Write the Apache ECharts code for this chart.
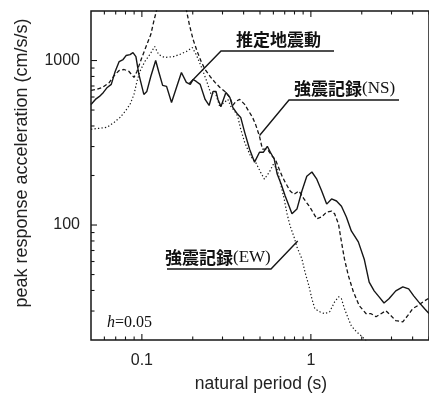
<!DOCTYPE html>
<html>
<head>
<meta charset="utf-8">
<script src="https://cdn.jsdelivr.net/npm/echarts@6/dist/echarts.min.js"></script>
<style>
  html, body { margin: 0; padding: 0; background: #fff; }
  #chart { width: 429px; height: 401px; }
</style>
</head>
<body>
<div id="chart"></div>
<script>
// Peak response acceleration spectra (h = 0.05): period (s) vs acceleration (cm/s/s)

// 推定地震動 (estimated ground motion)
const estT = [0.050, 0.0531, 0.0561, 0.0592, 0.0624, 0.0659, 0.0695, 0.0734, 0.0774, 0.0806, 0.0851, 0.0886, 0.0922, 0.096, 0.1027, 0.107, 0.1129, 0.1207, 0.1257, 0.1327, 0.140, 0.1498, 0.1602, 0.1714, 0.1833, 0.1934, 0.201, 0.2097, 0.2213, 0.2367, 0.2499, 0.2637, 0.2746, 0.282, 0.2937, 0.3142, 0.3316, 0.345, 0.369, 0.3845, 0.4058, 0.434, 0.4642, 0.4966, 0.524, 0.5525, 0.5757, 0.6075, 0.632, 0.6676, 0.7047, 0.7436, 0.773, 0.827, 0.885, 0.946, 1.014, 1.084, 1.159, 1.24, 1.326, 1.418, 1.517, 1.622, 1.735, 1.909, 2.069, 2.213, 2.368, 2.533, 2.709, 2.897, 3.18, 3.499, 3.79, 4.06, 4.34, 4.71, 5.0];
const estA = [540, 580, 605, 640, 686, 716, 858, 986, 1014, 1072, 1087, 1118, 1057, 823, 622, 649, 800, 1000, 858, 706, 696, 556, 686, 846, 736, 716, 767, 746, 716, 580, 533, 649, 649, 580, 526, 640, 597, 519, 471, 451, 366, 289, 241, 277, 277, 301, 277, 251, 204, 177, 150, 130, 117, 125, 161, 198, 210, 190, 161, 134, 144, 140, 130, 112, 92, 79, 62, 45, 39.8, 36.6, 33.6, 35.6, 39.8, 42.1, 40.9, 37.1, 34.1, 31.0, 29];

// 強震記録(NS)
const nsT = [0.050, 0.0538, 0.0584, 0.0642, 0.0686, 0.0734, 0.0785, 0.0839, 0.0898, 0.0935, 0.100, 0.107, 0.1129, 0.1175, 0.1224, 0.1344, 0.1498, 0.169, 0.1833, 0.191, 0.201, 0.2126, 0.2243, 0.2367, 0.2533, 0.2709, 0.2897, 0.3099, 0.3316, 0.345, 0.3594, 0.3793, 0.4058, 0.4224, 0.4517, 0.4707, 0.4966, 0.5166, 0.5525, 0.591, 0.6158, 0.6498, 0.676, 0.7047, 0.7538, 0.7953, 0.8509, 0.9101, 0.9867, 1.084, 1.159, 1.24, 1.326, 1.382, 1.458, 1.517, 1.58, 1.668, 1.784, 1.934, 2.124, 2.27, 2.43, 2.60, 2.78, 2.98, 3.18, 3.499, 3.74, 4.0, 4.28, 4.71, 5.0];
const nsA = [658, 667, 686, 736, 811, 870, 882, 858, 789, 858, 1043, 1250, 1438, 1722, 2036, 2620, 3016, 2620, 2036, 1652, 1340, 1134, 986, 882, 800, 736, 686, 649, 597, 533, 564, 580, 541, 505, 451, 409, 346, 289, 289, 262, 251, 218, 198, 182, 161, 154, 161, 144, 128.5, 109, 112, 120, 121.6, 117, 101, 79, 62.2, 49.1, 39.3, 32.3, 28.9, 28.9, 27.7, 28.9, 30.1, 28.1, 26.2, 25.8, 28.1, 31.0, 32.3, 34.6, 36];

// 強震記録(EW)
const ewT = [0.050, 0.0568, 0.0624, 0.0686, 0.0743, 0.0796, 0.0851, 0.0898, 0.0935, 0.0973, 0.1041, 0.1114, 0.1191, 0.1257, 0.1363, 0.1538, 0.1668, 0.1833, 0.1987, 0.2097, 0.2243, 0.2399, 0.2567, 0.2709, 0.2897, 0.3017, 0.3227, 0.336, 0.3546, 0.369, 0.3845, 0.4058, 0.4224, 0.4398, 0.4707, 0.5033, 0.531, 0.568, 0.5995, 0.632, 0.6588, 0.6952, 0.7227, 0.7538, 0.7953, 0.827, 0.885, 0.9224, 0.9734, 1.014, 1.055, 1.129, 1.207, 1.292, 1.382, 1.458, 1.517, 1.58, 1.668, 1.735, 1.856, 1.985, 2.124, 2.43];
const ewA = [382, 388, 393, 421, 451, 491, 541, 622, 746, 858, 986, 1087, 1216, 1087, 1043, 1057, 1087, 1134, 1199, 1087, 920, 767, 622, 649, 519, 548, 580, 526, 491, 458, 382, 318, 289, 262, 241, 210, 190, 210, 234, 218, 182, 144, 117, 98.6, 84.5, 73.6, 62.2, 51.9, 42.7, 35.6, 31.0, 29.7, 28.9, 29.7, 34.1, 36.6, 35.6, 31.0, 26.9, 24.4, 22.5, 21.2, 19.8, 18];

// axis ranges and tick values
const periodRange = [0.05, 5];
const accRange = [20, 2000];
const periodMajorTicks = [0.1, 1];
const periodMinorTicks = [0.06, 0.07, 0.08, 0.09, 0.2, 0.3, 0.4, 0.5, 0.6, 0.7, 0.8, 0.9, 2, 3, 4, 5];
const accMajorTicks = [100, 1000];
const accMinorTicks = [30, 40, 50, 60, 70, 80, 90, 200, 300, 400, 500, 600, 700, 800, 900];

// curve labels and the points their leaders touch
const labelNames = ['推定地震動', '強震記録', '強震記録'];
const labelSuffixes = ['', '(NS)', '(EW)'];
const labelAnchors = [[0.191, 725], [0.497, 350], [0.836, 80]];

const pairs = (t, a) => t.map((v, i) => [v, a[i]]);

const INK = '#161616';
const sans = "'Liberation Sans', Arial, sans-serif";
const serif = "'Liberation Serif', 'Times New Roman', serif";
const cjk = "'Noto Sans CJK JP', sans-serif";

const chart = echarts.init(document.getElementById('chart'), null, { renderer: 'canvas' });

function xTickItem(params, api) {
  const v = api.value(0);
  const len = api.value(2) ? 6 : 3.5;
  const b = api.coord([v, accRange[0]]);
  const t = api.coord([v, accRange[1]]);
  const style = { stroke: INK, lineWidth: 1.1 };
  return {
    type: 'group',
    children: [
      { type: 'line', shape: { x1: b[0], y1: b[1], x2: b[0], y2: b[1] - len }, style },
      { type: 'line', shape: { x1: t[0], y1: t[1], x2: t[0], y2: t[1] + len }, style }
    ]
  };
}

function yTickItem(params, api) {
  const v = api.value(1);
  const len = api.value(2) ? 6 : 3.5;
  const p = api.coord([periodRange[0], v]);
  return {
    type: 'line',
    shape: { x1: p[0], y1: p[1], x2: p[0] + len, y2: p[1] },
    style: { stroke: INK, lineWidth: 1.1 }
  };
}

const axisCommon = {
  type: 'log',
  logBase: 10,
  axisLine: { show: false },
  axisTick: { show: false },
  splitLine: { show: false },
  minorTick: { show: false }
};

chart.setOption({
  animation: false,
  backgroundColor: '#fff',
  grid: {
    left: 91, top: 11, width: 343, height: 329,
    show: true, borderColor: INK, borderWidth: 1.5, backgroundColor: 'transparent'
  },
  xAxis: Object.assign({}, axisCommon, {
    min: periodRange[0], max: periodRange[1],
    axisLabel: {
      showMinLabel: false, showMaxLabel: false, margin: 13,
      fontFamily: sans, fontSize: 16, color: '#222',
      formatter: v => String(v)
    }
  }),
  yAxis: Object.assign({}, axisCommon, {
    min: accRange[0], max: accRange[1],
    axisLabel: {
      showMinLabel: false, showMaxLabel: false, margin: 11,
      fontFamily: sans, fontSize: 16, color: '#222',
      formatter: v => String(v)
    }
  }),
  series: [
    {
      name: '推定地震動', type: 'line', data: pairs(estT, estA),
      symbol: 'none', lineStyle: { color: INK, width: 1.4, type: 'solid' }
    },
    {
      name: '強震記録(NS)', type: 'line', data: pairs(nsT, nsA),
      symbol: 'none', lineStyle: { color: INK, width: 1.3, type: [4, 2.5] }
    },
    {
      name: '強震記録(EW)', type: 'line', data: pairs(ewT, ewA),
      symbol: 'none', lineStyle: { color: INK, width: 1.2, type: [1.3, 2.2] }
    },
    {
      type: 'custom', clip: false, silent: true,
      data: periodMajorTicks.map(v => [v, accRange[0], 1])
        .concat(periodMinorTicks.map(v => [v, accRange[0], 0])),
      renderItem: xTickItem
    },
    {
      type: 'custom', clip: false, silent: true,
      data: accMajorTicks.map(v => [periodRange[0], v, 1])
        .concat(accMinorTicks.map(v => [periodRange[0], v, 0])),
      renderItem: yTickItem
    }
  ]
});

// label boxes: text left edge, text centre line, underline row and its far end
const labelLayout = [
  { x: 236, y: 40, lineY: 51, corner: 221, end: 334 },
  { x: 294, y: 89, lineY: 100, corner: 289, end: 399 },
  { x: 165, y: 258, lineY: 269, corner: 271, end: 167 }
];

const graphics = [
  {
    type: 'text', x: 261, y: 384,
    style: { text: 'natural period (s)', font: '17.5px ' + sans, fill: '#222', align: 'center', verticalAlign: 'middle' }
  },
  {
    type: 'text', x: 22, y: 163, rotation: Math.PI / 2,
    style: { text: 'peak response acceleration (cm/s/s)', font: '18px ' + sans, fill: '#222', align: 'center', verticalAlign: 'middle' }
  },
  {
    type: 'text', x: 107, y: 323,
    style: {
      text: '{i|h}{n|=0.05}',
      verticalAlign: 'middle',
      rich: {
        i: { font: 'italic 16px ' + serif, fill: '#111' },
        n: { font: '16px ' + serif, fill: '#111' }
      }
    }
  }
];

labelNames.forEach((name, i) => {
  const L = labelLayout[i];
  const a = chart.convertToPixel({ gridIndex: 0 }, labelAnchors[i]);
  graphics.push({
    type: 'text', x: L.x, y: L.y,
    style: {
      text: '{j|' + name + '}' + (labelSuffixes[i] ? '{s|' + labelSuffixes[i] + '}' : ''),
      verticalAlign: 'middle',
      rich: {
        j: { font: 'bold 17px ' + cjk, fill: '#111' },
        s: { font: '17px ' + serif, fill: '#111' }
      }
    }
  });
  graphics.push({
    type: 'polyline',
    shape: { points: [a, [L.corner, L.lineY], [L.end, L.lineY]] },
    style: { stroke: INK, lineWidth: 1.4, fill: null }
  });
});

chart.setOption({ graphic: graphics });
</script>
</body>
</html>
